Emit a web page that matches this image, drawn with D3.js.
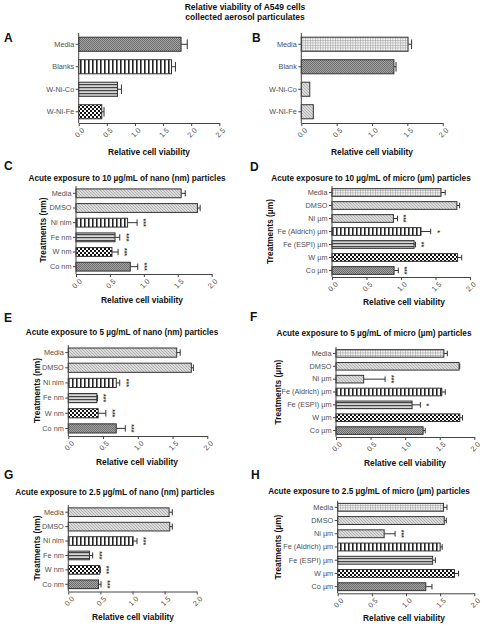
<!DOCTYPE html>
<html><head><meta charset="utf-8">
<script src="https://cdn.jsdelivr.net/npm/d3@7/dist/d3.min.js"></script>
<style>
body{margin:0;background:#fff;}
text{font-family:"Liberation Sans",Arial,Helvetica,sans-serif;}
</style></head>
<body><svg id="c" width="482" height="627"></svg>
<script>
// ---------- DATA ----------
const mainTitle = ["Relative viability of A549 cells", "collected aerosol particulates"];
const xTitle = "Relative cell viability";
const ticks25 = ["0.0","0.5","1.0","1.5","2.0","2.5"];
const ticks20 = ["0.0","0.5","1.0","1.5","2.0"];

const catsA = ["Media","Blanks","W-Ni-Co","W-NI-Fe"];
const valsA = [1.82,1.65,0.69,0.41];
const errA  = [0.11,0.07,0.07,0.04];

const catsB = ["Media","Blank","W-Ni-Co","W-NI-Fe"];
const valsB = [1.51,1.31,0.12,0.17];
const errB  = [0.05,0.03,0,0];

const catsNano  = ["Media","DMSO","Ni nim","Fe nm","W nm","Co nm"];
const catsMicro = ["Media","DMSO","Ni µm","Fe (Aldrich) µm","Fe (ESPI) µm","W µm","Co µm"];

const valsC = [1.55,1.79,0.76,0.575,0.53,0.80];
const errC  = [0.06,0.04,0.14,0.07,0.09,0.11];
const sigC  = ["","","***","***","***","***"];

const valsD = [1.58,1.81,0.89,1.29,1.19,1.82,0.90];
const errD  = [0.06,0.04,0.06,0.14,0.02,0.06,0.06];
const sigD  = ["","","***","*","**","","***"];

const valsE = [1.56,1.77,0.69,0.41,0.43,0.69];
const errE  = [0.05,0.03,0.05,0.01,0.11,0.13];
const sigE  = ["","","***","***","***","***"];

const valsF = [1.56,1.78,0.40,1.53,1.10,1.79,1.26];
const errF  = [0.05,0.01,0.31,0.05,0.12,0.04,0.03];
const sigF  = ["","","***","","*","",""];

const valsG = [1.57,1.58,1.01,0.33,0.49,0.47];
const errG  = [0.05,0.04,0.06,0.05,0.01,0.04];
const sigG  = ["","","***","***","***","***"];

const valsH = [1.55,1.56,0.68,1.50,1.39,1.71,1.29];
const errH  = [0.05,0.03,0.16,0.03,0.04,0.06,0.09];
const sigH  = ["","","***","","","",""];

const titleC = "Acute exposure to 10 µg/mL of nano (nm) particles";
const titleD = "Acute exposure to 10 µg/mL of micro (µm) particles";
const titleE = "Acute exposure to 5 µg/mL of nano (nm) particles";
const titleF = "Acute exposure to 5 µg/mL of micro (µm) particles";
const titleG = "Acute exposure to 2.5 µg/mL of nano (nm) particles";
const titleH = "Acute exposure to 2.5 µg/mL of micro (µm) particles";
const yTitleNano = "Treatments (nm)";
const yTitleMicro = "Treatments (µm)";

const patA = ["dark","vstripe","hstripe","checker"];
const patB = ["grid","dark","diag","diag"];
const patNano = ["diag","diag","vstripe","hstripe","checker","dark"];
const patMicro = ["grid","diag","diag","vstripe","hstripe","checker","dark"];

// ---------- PATTERNS ----------
const svg = d3.select("#c");
const defs = svg.append("defs");
function pat(id,w,h,bg,draw){
  const p = defs.append("pattern").attr("id",id).attr("patternUnits","userSpaceOnUse")
    .attr("width",w).attr("height",h);
  p.append("rect").attr("width",w).attr("height",h).attr("fill",bg);
  draw(p);
}
pat("dark",2,2,"#a3a3a3",p=>{
  p.append("rect").attr("x",0).attr("y",0).attr("width",1).attr("height",1).attr("fill","#6e6e6e");
  p.append("rect").attr("x",1).attr("y",1).attr("width",1).attr("height",1).attr("fill","#6e6e6e");
});
pat("vstripe",4,4,"#ffffff",p=>{
  p.append("rect").attr("x",0).attr("y",0).attr("width",1.6).attr("height",4).attr("fill","#222");
});
pat("hstripe",3,3,"#d6d6d6",p=>{
  p.append("rect").attr("x",0).attr("y",0).attr("width",3).attr("height",1.2).attr("fill","#444");
});
pat("checker",4,4,"#ffffff",p=>{
  p.append("rect").attr("x",0).attr("y",0).attr("width",2).attr("height",2).attr("fill","#111");
  p.append("rect").attr("x",2).attr("y",2).attr("width",2).attr("height",2).attr("fill","#111");
});
pat("diag",3,3,"#dadada",p=>{
  p.append("path").attr("d","M0,0 L3,3 M-1,2 L1,4 M2,-1 L4,1").attr("stroke","#a8a8a8").attr("stroke-width",0.8);
});
pat("grid",2.5,2.5,"#f4f4f4",p=>{
  p.append("path").attr("d","M0,0.3 H2.5 M0.3,0 V2.5").attr("stroke","#9a9a9a").attr("stroke-width",0.6);
});

// ---------- HELPERS ----------
const AX = "#444";
function txt(x,y,s,size,opt={}){
  const t = svg.append("text").attr("x",x).attr("y",y).text(s)
    .attr("font-size",size).attr("fill",opt.fill||"#111")
    .attr("font-weight",opt.bold?"bold":"normal")
    .attr("text-anchor",opt.anchor||"middle");
  if(opt.rotate!==undefined) t.attr("transform",`rotate(${opt.rotate},${x},${y})`);
  return t;
}

function panel(cfg){
  const {cats,vals,errs,sig,pats,x0,x1,y0,y1,max,tickLabels} = cfg;
  const x = d3.scaleLinear().domain([0,max]).range([x0,x1]);
  const y = d3.scaleBand().domain(cats).range([y0,y1]).paddingInner(0.33).paddingOuter(0.165);
  const g = svg.append("g");
  const data = cats.map((c,i)=>({c,v:vals[i],e:errs[i],s:sig?sig[i]:"",p:pats[i]}));
  const bw = y.bandwidth();
  // error bars
  data.forEach(d=>{
    if(d.e>0){
      const cy = y(d.c)+bw/2;
      g.append("line").attr("x1",x(d.v)).attr("x2",x(d.v+d.e)).attr("y1",cy).attr("y2",cy)
        .attr("stroke","#333").attr("stroke-width",1);
      g.append("line").attr("x1",x(d.v+d.e)).attr("x2",x(d.v+d.e))
        .attr("y1",cy-bw*0.32).attr("y2",cy+bw*0.32).attr("stroke","#333").attr("stroke-width",1);
    }
  });
  // bars
  g.selectAll("rect.bar").data(data).join("rect").attr("class","bar")
    .attr("x",x(0)).attr("y",d=>y(d.c)+0.5).attr("width",d=>x(d.v)-x(0)).attr("height",bw-1)
    .attr("fill",d=>`url(#${d.p})`).attr("stroke","#333").attr("stroke-width",1);
  // significance
  data.filter(d=>d.s).forEach(d=>{
    const sx = x(d.v+d.e)+7, cy=y(d.c)+bw/2;
    g.append("text").attr("x",sx).attr("y",cy).attr("dy","0.45em").text(d.s)
      .attr("font-size",7).attr("font-weight","bold").attr("fill","#333")
      .attr("text-anchor","middle").attr("transform",`rotate(90,${sx},${cy})`);
  });
  // y axis
  const ya = g.append("g").attr("transform",`translate(${x0},0)`)
    .call(d3.axisLeft(y).tickSize(3).tickSizeOuter(0).tickPadding(1.5));
  ya.select(".domain").attr("stroke",AX).attr("d",`M0,${y0}V${y1}`);
  ya.selectAll(".tick line").attr("stroke",AX);
  ya.selectAll(".tick text").attr("font-size",7.3).attr("fill","#505050")
    .attr("font-family",'"Liberation Sans",Arial,sans-serif')
    .attr("opacity",0.999);
  // x axis
  const tv = tickLabels.map(s=>+s);
  const xa = g.append("g").attr("transform",`translate(0,${y1})`)
    .call(d3.axisBottom(x).tickValues(tv).tickFormat((d,i)=>tickLabels[i]).tickSize(3).tickSizeOuter(0));
  xa.select(".domain").attr("stroke",AX);
  xa.selectAll(".tick line").attr("stroke",AX);
  xa.selectAll(".tick text").attr("font-size",7.3).attr("fill","#505050")
    .attr("font-family",'"Liberation Sans",Arial,sans-serif')
    .attr("text-anchor","end").attr("dx","-0.2em").attr("dy","0.5em")
    .attr("transform","rotate(-45)");
  return {x,y};
}

// ---------- TITLE ----------
txt(245,9.5,mainTitle[0],8.5,{bold:true});
txt(245,19.5,mainTitle[1],8.5,{bold:true});

// ---------- PANELS ----------
const LF = 12; // panel letter size
txt(4,42,"A",LF,{bold:true,anchor:"start"});
panel({cats:catsA,vals:valsA,errs:errA,pats:patA,x0:78.7,x1:219.3,y0:33,y1:123,max:2.5,tickLabels:ticks25});
txt(149,155,xTitle,8.4,{bold:true});

txt(252,42,"B",LF,{bold:true,anchor:"start"});
panel({cats:catsB,vals:valsB,errs:errB,pats:patB,x0:301.3,x1:442.7,y0:33,y1:123,max:2,tickLabels:ticks20});
txt(372,155,xTitle,8.4,{bold:true});

txt(4,170,"C",LF,{bold:true,anchor:"start"});
txt(127,181,titleC,8.2,{bold:true});
panel({cats:catsNano,vals:valsC,errs:errC,sig:sigC,pats:patNano,x0:76,x1:211.7,y0:186,y1:274,max:2,tickLabels:ticks20});
txt(142,303,xTitle,8.4,{bold:true});
txt(46,230,yTitleNano,8.4,{bold:true,rotate:-90});

txt(250,171,"D",LF,{bold:true,anchor:"start"});
txt(371,181,titleD,8.2,{bold:true});
panel({cats:catsMicro,vals:valsD,errs:errD,sig:sigD,pats:patMicro,x0:332,x1:470,y0:186,y1:277,max:2,tickLabels:ticks20});
txt(404,305,xTitle,8.4,{bold:true});
txt(273,231.5,yTitleMicro,8.4,{bold:true,rotate:-90});

txt(4,322,"E",LF,{bold:true,anchor:"start"});
txt(122,335,titleE,8.2,{bold:true});
panel({cats:catsNano,vals:valsE,errs:errE,sig:sigE,pats:patNano,x0:68.3,x1:207.3,y0:345,y1:436,max:2,tickLabels:ticks20});
txt(137,465,xTitle,8.4,{bold:true});
txt(40,390.5,yTitleNano,8.4,{bold:true,rotate:-90});

txt(250,321,"F",LF,{bold:true,anchor:"start"});
txt(374,336,titleF,8.2,{bold:true});
panel({cats:catsMicro,vals:valsF,errs:errF,sig:sigF,pats:patMicro,x0:336,x1:474.3,y0:347,y1:437,max:2,tickLabels:ticks20});
txt(405,466,xTitle,8.4,{bold:true});
txt(280.7,392,yTitleMicro,8.4,{bold:true,rotate:-90});

txt(4,479,"G",LF,{bold:true,anchor:"start"});
txt(115,494.5,titleG,8.2,{bold:true});
panel({cats:catsNano,vals:valsG,errs:errG,sig:sigG,pats:patNano,x0:68.3,x1:196.7,y0:505,y1:591.5,max:2,tickLabels:ticks20});
txt(133,620,xTitle,8.4,{bold:true});
txt(40.3,548,yTitleNano,8.4,{bold:true,rotate:-90});

txt(251,479,"H",LF,{bold:true,anchor:"start"});
txt(369,494,titleH,8.2,{bold:true});
panel({cats:catsMicro,vals:valsH,errs:errH,sig:sigH,pats:patMicro,x0:337.7,x1:474.3,y0:500.7,y1:593.3,max:2,tickLabels:ticks20});
txt(404,621,xTitle,8.4,{bold:true});
txt(280.7,547,yTitleMicro,8.4,{bold:true,rotate:-90});
</script></body></html>
